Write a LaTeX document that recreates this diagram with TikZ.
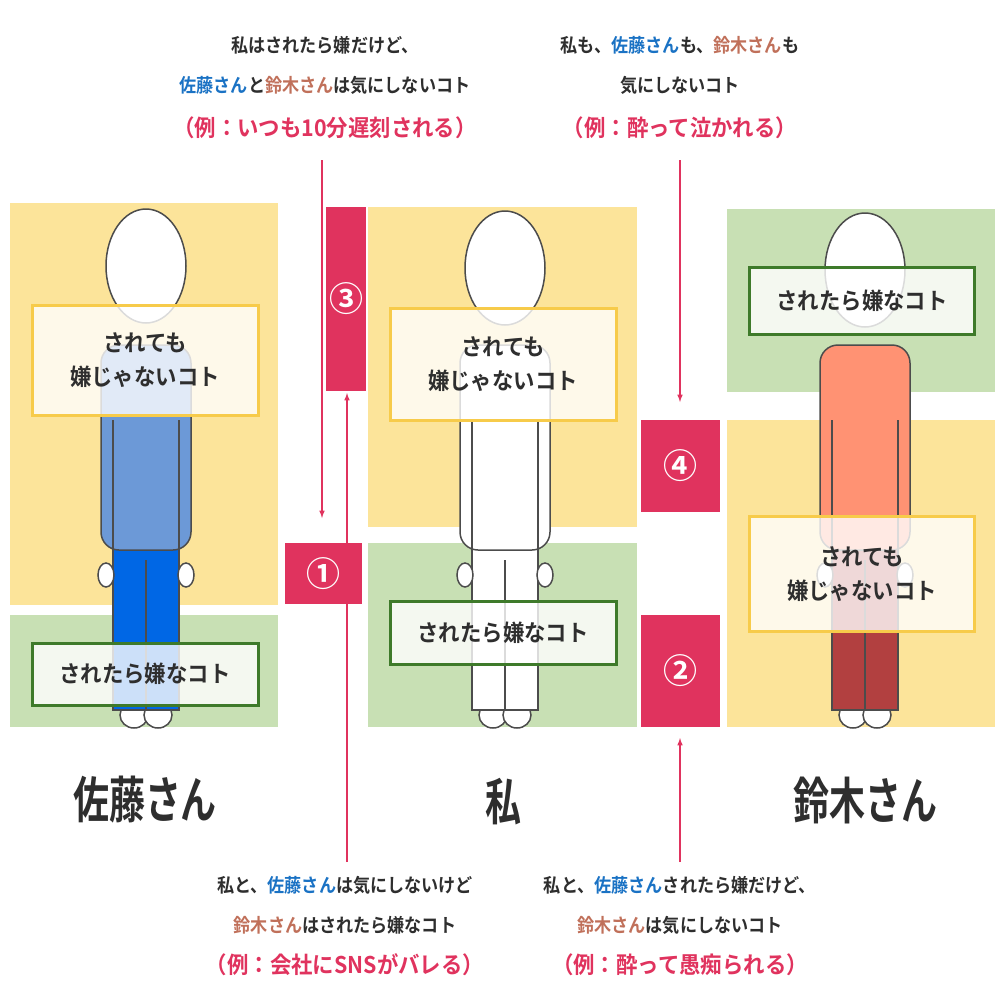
\documentclass[tikz,border=0pt]{standalone}
\usepackage{fontspec}
\newfontfamily\jp{Noto Sans CJK JP}[BoldFont={Noto Sans CJK JP Bold}]
\definecolor{yel}{HTML}{FCE49A}
\definecolor{grn}{HTML}{C8E0B4}
\definecolor{ybd}{HTML}{F7CB4A}
\definecolor{gbd}{HTML}{3E7A2A}
\definecolor{rd}{HTML}{E0335E}
\definecolor{bl}{HTML}{1A72C4}
\definecolor{br}{HTML}{C0705A}
\definecolor{txt}{HTML}{2E2E2E}
\begin{document}
\begin{tikzpicture}[x=1pt,y=-1pt,font=\jp\bfseries,text=txt,
  ybox/.style={draw=ybd,line width=3pt,fill=white,fill opacity=0.8,text opacity=1,font=\jp\bfseries\fontsize{23}{34}\selectfont,align=center},
  gbox/.style={draw=gbd,line width=3pt,fill=white,fill opacity=0.8,text opacity=1,font=\jp\bfseries\fontsize{23}{34}\selectfont},
  sq/.style={font=\jp\bfseries\fontsize{23}{34}\selectfont\addfontfeature{FakeStretch=0.93}},
  rbox/.style={fill=rd,text=white,font=\jp\bfseries\fontsize{34}{36}\selectfont},
  arr/.style={draw=rd,line width=1.5pt,-latex},
  captxt/.style={font=\jp\bfseries\fontsize{19}{40}\selectfont\addfontfeature{FakeStretch=0.9},align=center},
  extxt/.style={font=\jp\bfseries\fontsize{23}{26}\selectfont\addfontfeature{FakeStretch=0.93},text=rd},
  pname/.style={font=\jp\bfseries\fontsize{50}{56}\selectfont\addfontfeature{FakeStretch=0.72}},
  figline/.style={draw=black!70,line width=1.5pt}]
\useasboundingbox (0,0) rectangle (1005,1005);
% panels
\fill[yel] (10,203) rectangle (278,605);
\fill[grn] (10,615) rectangle (278,727);
\fill[yel] (368,207) rectangle (637,527);
\fill[grn] (368,543) rectangle (637,727);
\fill[grn] (727,209) rectangle (995,392);
\fill[yel] (727,420) rectangle (995,727);
% figures
\newcommand\person[4]{%
 \begin{scope}[shift={(#1,0)}]
 \draw[figline,fill=white] (-12,715) ellipse (14 and 13); \draw[figline,fill=white] (12,715) ellipse (14 and 13);
 \draw[figline,fill=#3] (-33,535) rectangle (33,710);
 \draw[figline] (0,560) -- (0,710);
 \draw[figline,fill=#2,rounded corners=18pt] (-45,345) rectangle (45,550);
 \draw[figline] (-33,420) -- (-33,550); \draw[figline] (33,420) -- (33,550);
 \draw[figline,fill=white] (-40,575) ellipse (8 and 12); \draw[figline,fill=white] (40,575) ellipse (8 and 12);
 \draw[figline,fill=white] (0,#4) ellipse (40 and 57);
 \end{scope}}
\person{146}{cyan!50!blue!60!white}{blue!55!cyan!90!black}{266}
\person{505}{white}{white}{268}
\person{865}{red!55!orange!55!white}{red!60!black!75}{270}
% inner boxes
\node[ybox,sq,align=center,minimum width=226pt,minimum height=110pt] (sy) at (145,360) {されても\\嫌じゃないコト};
\node[gbox,sq,minimum width=226pt,minimum height=62pt] (sg) at (145,674) {されたら嫌なコト};
\node[ybox,sq,align=center,minimum width=226pt,minimum height=112pt] (my) at (503,364) {されても\\嫌じゃないコト};
\node[gbox,sq,minimum width=226pt,minimum height=63pt] (mg) at (503,633) {されたら嫌なコト};
\node[gbox,sq,minimum width=225pt,minimum height=67pt] (zg) at (862,301) {されたら嫌なコト};
\node[ybox,sq,align=center,minimum width=225pt,minimum height=115pt] (zy) at (862,574) {されても\\嫌じゃないコト};
% red boxes
\node[rbox,minimum width=32pt,minimum height=184pt] (r3) at (346,299) {③};
\node[rbox,minimum width=77pt,minimum height=61pt] (r1) at (323.5,573.5) {①};
\node[rbox,minimum width=79pt,minimum height=92pt] (r4) at (680.5,466) {④};
\node[rbox,minimum width=79pt,minimum height=112pt] (r2) at (680.5,671) {②};
% names
\node[pname] (n1) at (145,800) {佐藤さん};
\node[pname] (n2) at (503,802) {私};
\node[pname] (n3) at (865,800) {鈴木さん};
% captions
\node[captxt] (t1) at (325,65) {私はされたら嫌だけど、\\\textcolor{bl}{佐藤さん}と\textcolor{br}{鈴木さん}は気にしないコト};
\node[extxt] (e1) at (325,128) {（例：いつも10分遅刻される）};
\node[captxt] (t2) at (680,65) {私も、\textcolor{bl}{佐藤さん}も、\textcolor{br}{鈴木さん}も\\気にしないコト};
\node[extxt] (e2) at (680,128) {（例：酔って泣かれる）};
\node[captxt] (t3) at (345,905) {私と、\textcolor{bl}{佐藤さん}は気にしないけど\\\textcolor{br}{鈴木さん}はされたら嫌なコト};
\node[extxt] (e3) at (345,965) {（例：会社にSNSがバレる）};
\node[captxt] (t4) at (680,905) {私と、\textcolor{bl}{佐藤さん}されたら嫌だけど、\\\textcolor{br}{鈴木さん}は気にしないコト};
\node[extxt] (e4) at (680,965) {（例：酔って愚痴られる）};
% arrows
\coordinate (a1s) at (322,160); \coordinate (a1e) at (322,518);
\coordinate (a2s) at (347,862); \coordinate (a2e) at (347,393);
\coordinate (a3s) at (680,160); \coordinate (a3e) at (680,402);
\coordinate (a4s) at (680,862); \coordinate (a4e) at (680,738);
\draw[arr] (a1s) -- (a1e);
\draw[arr] (a2s) -- (a2e);
\draw[arr] (a3s) -- (a3e);
\draw[arr] (a4s) -- (a4e);
\end{tikzpicture}
\end{document}
